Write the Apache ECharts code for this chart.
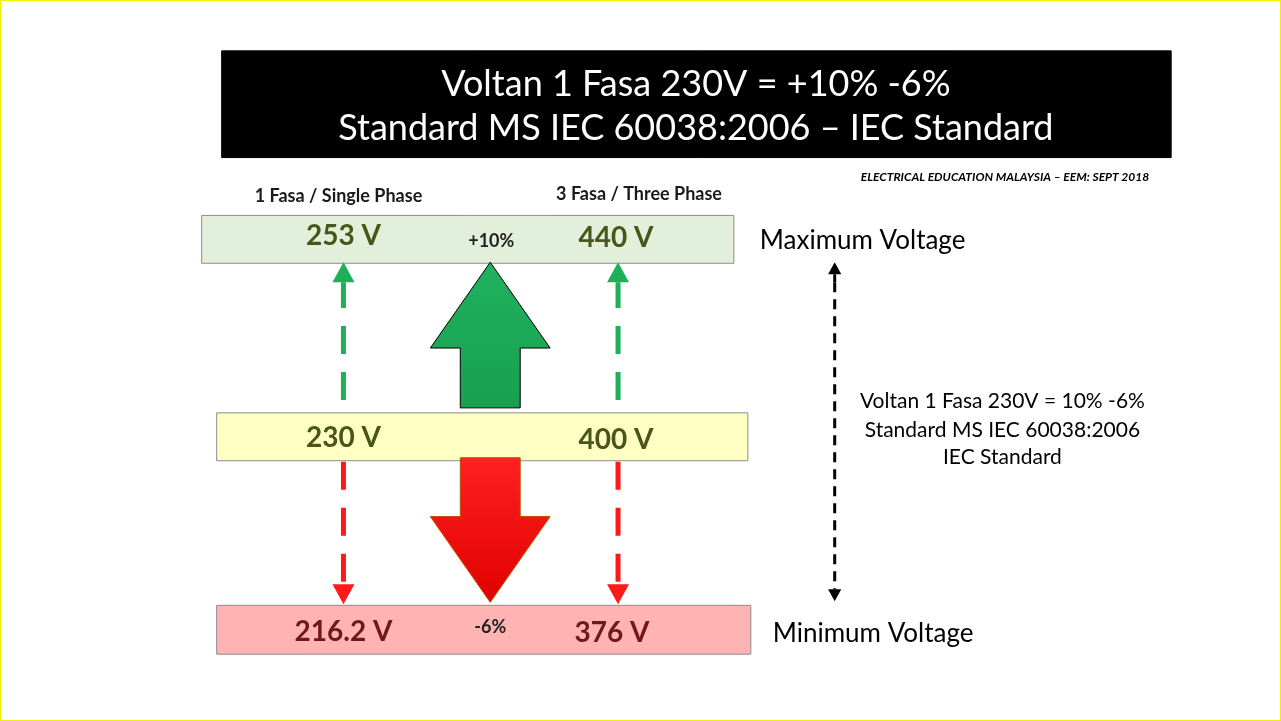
<!DOCTYPE html>
<html><head><meta charset="utf-8">
<script src="https://cdn.jsdelivr.net/npm/echarts@6/dist/echarts.min.js"></script>
<style>html,body{margin:0;padding:0;background:#fff}#c{width:1281px;height:721px;box-sizing:border-box;border:1px solid #f2f000}</style>
</head><body><div id="c"></div>
<script>
// boxes: [x0, y0, x1, y1, fill, stroke]
const boxes = [
  [221, 50, 1172, 157, '#000000', '#000000'],
  [201, 215, 734, 263, '#e2efda', '#8c8c8c'],
  [216, 413, 748, 461, '#ffffc4', '#8c8c8c'],
  [216, 606, 751, 655, '#ffb3b3', '#8c8c8c']
];
// big arrows: [centerX, baseY, tipY, colorTop, colorBottom]
const bigArrows = [
  [490, 408, 262, '#20b15f', '#17a050'],
  [490, 458, 603, '#ff2020', '#e00000']
];
// dashed arrows: [x, fromY, toY, color, width]
const dashArrows = [
  [343, 400, 262, '#1db059', 5],
  [618, 400, 262, '#1db059', 5],
  [343, 462, 605, '#ff1a1a', 5],
  [618, 462, 605, '#ff1a1a', 5],
  [835, 282, 262, '#000000', 3],
  [835, 282, 602, '#000000', 3]
];
// texts: [x, y, text, size, color, weight, align, style]
const texts = [
  [696, 84, 'Voltan 1 Fasa 230V = +10% -6%', 36, '#ffffff', 'normal', 'center', 'normal'],
  [696, 128, 'Standard MS IEC 60038:2006 – IEC Standard', 36, '#ffffff', 'normal', 'center', 'normal'],
  [1150, 177, 'ELECTRICAL EDUCATION MALAYSIA – EEM: SEPT 2018', 12, '#000000', 'bold', 'right', 'italic'],
  [338, 196, '1 Fasa / Single Phase', 18, '#1a1a1a', 'bold', 'center', 'normal'],
  [639, 194, '3 Fasa / Three Phase', 18, '#1a1a1a', 'bold', 'center', 'normal'],
  [343, 236, '253 V', 28, '#4a5519', 'bold', 'center', 'normal'],
  [491, 241, '+10%', 18, '#222222', 'bold', 'center', 'normal'],
  [616, 238, '440 V', 28, '#4a5519', 'bold', 'center', 'normal'],
  [760, 240, 'Maximum Voltage', 26, '#000000', 'normal', 'left', 'normal'],
  [343, 438, '230 V', 28, '#4a5519', 'bold', 'center', 'normal'],
  [616, 440, '400 V', 28, '#4a5519', 'bold', 'center', 'normal'],
  [343, 633, '216.2 V', 28, '#701818', 'bold', 'center', 'normal'],
  [490, 628, '-6%', 18, '#222222', 'bold', 'center', 'normal'],
  [612, 634, '376 V', 28, '#701818', 'bold', 'center', 'normal'],
  [773, 634, 'Minimum Voltage', 26, '#000000', 'normal', 'left', 'normal'],
  [1003, 401, 'Voltan 1 Fasa 230V = 10% -6%', 21, '#000000', 'normal', 'center', 'normal'],
  [1003, 430, 'Standard MS IEC 60038:2006', 21, '#000000', 'normal', 'center', 'normal'],
  [1003, 458, 'IEC Standard', 21, '#000000', 'normal', 'center', 'normal']
];
const FONT = 'Lato, "Open Sans", sans-serif';
const chart = echarts.init(document.getElementById('c'));
chart.setOption({
  animation: false,
  grid: {left: 0, right: 0, top: 0, bottom: 0},
  xAxis: {type: 'value', min: 0, max: 1281, show: false},
  yAxis: {type: 'value', min: 0, max: 721, inverse: true, show: false},
  series: [
    {type: 'custom', data: boxes, z: 1, renderItem: (p, api) => {
      const d = boxes[p.dataIndex];
      const a = api.coord([d[0], d[1]]), b = api.coord([d[2], d[3]]);
      return {type: 'rect', shape: {x: a[0], y: a[1], width: b[0]-a[0], height: b[1]-a[1]},
        style: {fill: d[4], stroke: d[5], lineWidth: 1}};
    }},
    {type: 'custom', data: bigArrows, z: 2, renderItem: (p, api) => {
      const d = bigArrows[p.dataIndex];
      const dir = d[2] < d[1] ? -1 : 1;
      const head = 86 * dir;
      const pts = [[d[0]-30, d[1]], [d[0]-30, d[2]-head], [d[0]-60, d[2]-head], [d[0], d[2]],
        [d[0]+60, d[2]-head], [d[0]+30, d[2]-head], [d[0]+30, d[1]]].map(q => api.coord(q));
      return {type: 'polygon', shape: {points: pts},
        style: {fill: new echarts.graphic.LinearGradient(0, 0, 0, 1, [{offset: 0, color: d[3]}, {offset: 1, color: d[4]}]),
          stroke: dir < 0 ? '#000' : '#c05000', lineWidth: 1}};
    }},
    {type: 'custom', data: dashArrows, z: 3, renderItem: (p, api) => {
      const d = dashArrows[p.dataIndex];
      const dir = d[2] < d[1] ? -1 : 1;
      const hl = d[4] * 4, hw = d[4] * 2.2;
      const a = api.coord([d[0], d[1]]), b = api.coord([d[0], d[2] - hl * dir]);
      const t = api.coord([d[0], d[2]]);
      return {type: 'group', children: [
        {type: 'line', shape: {x1: a[0], y1: a[1], x2: b[0], y2: b[1]},
          style: {stroke: d[3], lineWidth: d[4], lineDash: d[4] > 4 ? [28, 18] : [10, 7]}},
        {type: 'polygon', shape: {points: [[t[0], t[1]], [t[0]-hw, t[1]-hl*dir], [t[0]+hw, t[1]-hl*dir]]},
          style: {fill: d[3]}}
      ]};
    }},
    {type: 'custom', data: texts, z: 4, renderItem: (p, api) => {
      const d = texts[p.dataIndex];
      const c = api.coord([d[0], d[1]]);
      return {type: 'text', x: c[0], y: c[1], style: {text: d[2], fill: d[4],
        font: d[7] + ' ' + d[5] + ' ' + d[3] + 'px ' + FONT, align: d[6], verticalAlign: 'middle'}};
    }}
  ]
});
</script></body></html>
